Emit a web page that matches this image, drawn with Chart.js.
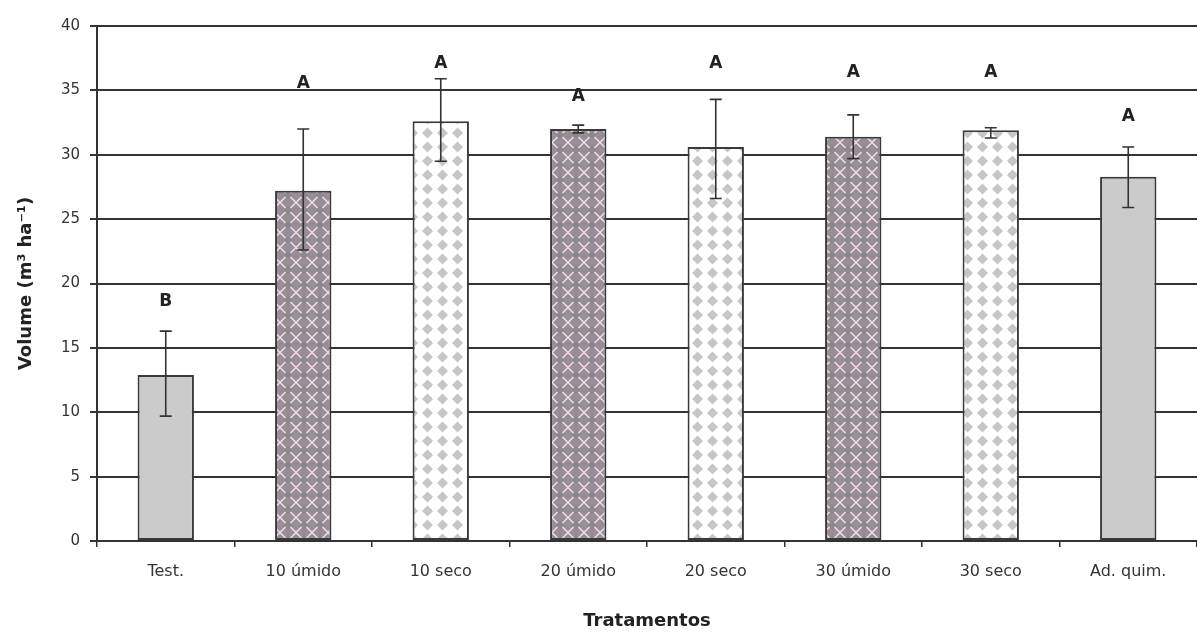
<!DOCTYPE html>
<html>
<head>
<meta charset="utf-8">
<script src="https://cdn.jsdelivr.net/npm/chart.js@4.4.1/dist/chart.umd.min.js"></script>
<style>
  html, body { margin: 0; padding: 0; background: #ffffff; }
  #wrap { width: 1197px; height: 633px; position: relative; }
</style>
</head>
<body>
<div id="wrap"><canvas id="c" width="1197" height="633"></canvas></div>
<script>
const categories = ['Test.', '10 úmido', '10 seco', '20 úmido', '20 seco', '30 úmido', '30 seco', 'Ad. quim.'];
const volumes    = [12.9, 27.2, 32.6, 32.0, 30.6, 31.4, 31.9, 28.3];
const errLow     = [9.7, 22.6, 29.5, 31.7, 26.6, 29.7, 31.3, 25.9];
const errHigh    = [16.3, 32.0, 35.9, 32.3, 34.3, 33.1, 32.1, 30.6];
const letters    = ['B', 'A', 'A', 'A', 'A', 'A', 'A', 'A'];
const letterY    = [18.6, 35.5, 37.1, 34.5, 37.1, 36.4, 36.4, 33.0];
const fillKinds  = ['solid', 'umido', 'seco', 'umido', 'seco', 'umido', 'seco', 'solid'];
const yTicks     = [0, 5, 10, 15, 20, 25, 30, 35, 40];

const FONT = "'DejaVu Sans', 'Liberation Sans', Arial, sans-serif";

function makeUmido() {
  const c = document.createElement('canvas');
  c.width = 16; c.height = 15;
  const g = c.getContext('2d');
  g.fillStyle = '#9b8d97';
  g.fillRect(0, 0, 16, 15);
  g.fillStyle = '#8b8a8b';
  const corners = [[0, 0], [16, 0], [0, 15], [16, 15]];
  corners.forEach(([cx, cy]) => {
    g.beginPath();
    g.moveTo(cx, cy - 4.5); g.lineTo(cx + 4.5, cy); g.lineTo(cx, cy + 4.5); g.lineTo(cx - 4.5, cy); g.closePath();
    g.fill();
  });
  g.strokeStyle = '#ebe0e8';
  g.lineWidth = 1.5;
  g.beginPath();
  g.moveTo(2.5, 2); g.lineTo(13.5, 13);
  g.moveTo(13.5, 2); g.lineTo(2.5, 13);
  g.stroke();
  return c;
}
function makeSeco() {
  const c = document.createElement('canvas');
  c.width = 15; c.height = 14;
  const g = c.getContext('2d');
  g.fillStyle = '#ffffff';
  g.fillRect(0, 0, 15, 14);
  g.fillStyle = '#c6c6c6';
  g.beginPath();
  g.moveTo(7.5, 1.5); g.lineTo(13, 7); g.lineTo(7.5, 12.5); g.lineTo(2, 7); g.closePath();
  g.fill();
  return c;
}

const ctx = document.getElementById('c').getContext('2d');
const patU = ctx.createPattern(makeUmido(), 'repeat');
const patS = ctx.createPattern(makeSeco(), 'repeat');
const fills = fillKinds.map(k => k === 'solid' ? '#cbcbcb' : (k === 'umido' ? patU : patS));

const extras = {
  id: 'extras',
  afterDatasetsDraw(chart) {
    const meta = chart.getDatasetMeta(0);
    const y = chart.scales.y;
    const g = chart.ctx;
    g.save();
    g.strokeStyle = '#333333';
    g.lineWidth = 1.6;
    meta.data.forEach((bar, i) => {
      const x = bar.x;
      const yl = y.getPixelForValue(errLow[i]);
      const yh = y.getPixelForValue(errHigh[i]);
      g.beginPath();
      g.moveTo(x, yl); g.lineTo(x, yh);
      g.moveTo(x - 6, yl); g.lineTo(x + 6, yl);
      g.moveTo(x - 6, yh); g.lineTo(x + 6, yh);
      g.stroke();
    });
    g.fillStyle = '#222222';
    g.font = 'bold 17px ' + FONT;
    g.textAlign = 'center';
    g.textBaseline = 'middle';
    meta.data.forEach((bar, i) => {
      g.fillText(letters[i], bar.x, y.getPixelForValue(letterY[i]));
    });
    g.restore();
  }
};

new Chart(ctx, {
  type: 'bar',
  data: {
    labels: categories,
    datasets: [{
      data: volumes,
      backgroundColor: fills,
      borderColor: '#3a3a3a',
      borderWidth: 2,
      borderSkipped: false,
      barPercentage: 0.41,
      categoryPercentage: 1.0
    }]
  },
  plugins: [extras],
  options: {
    responsive: false,
    animation: false,
    devicePixelRatio: 1,
    layout: { padding: { top: 26, right: 0, left: 0, bottom: 0 } },
    plugins: { legend: { display: false }, tooltip: { enabled: false } },
    scales: {
      x: {
        afterFit(s) { s.height = 92; },
        grid: { drawOnChartArea: false, offset: true, color: '#333333', lineWidth: 1.5, tickLength: 6 },
        border: { color: '#333333', width: 2 },
        ticks: { color: '#333333', font: { family: FONT, size: 16 }, padding: 15, maxRotation: 0 },
        title: { display: true, text: 'Tratamentos', color: '#222222', font: { family: FONT, size: 18, weight: 'bold' }, padding: { top: 4, bottom: 1 } }
      },
      y: {
        min: 0, max: 40,
        afterFit(s) { s.width = 97; },
        afterBuildTicks(s) { s.ticks = yTicks.map(v => ({ value: v })); },
        grid: { color: '#333333', lineWidth: 2, tickLength: 7 },
        border: { color: '#333333', width: 2 },
        ticks: { color: '#333333', font: { family: FONT, size: 15 }, padding: 10 },
        title: { display: true, text: 'Volume (m³ ha⁻¹)', color: '#222222', font: { family: FONT, size: 18, weight: 'bold' }, padding: { top: 16, bottom: 0 } }
      }
    }
  }
});
</script>
</body>
</html>
